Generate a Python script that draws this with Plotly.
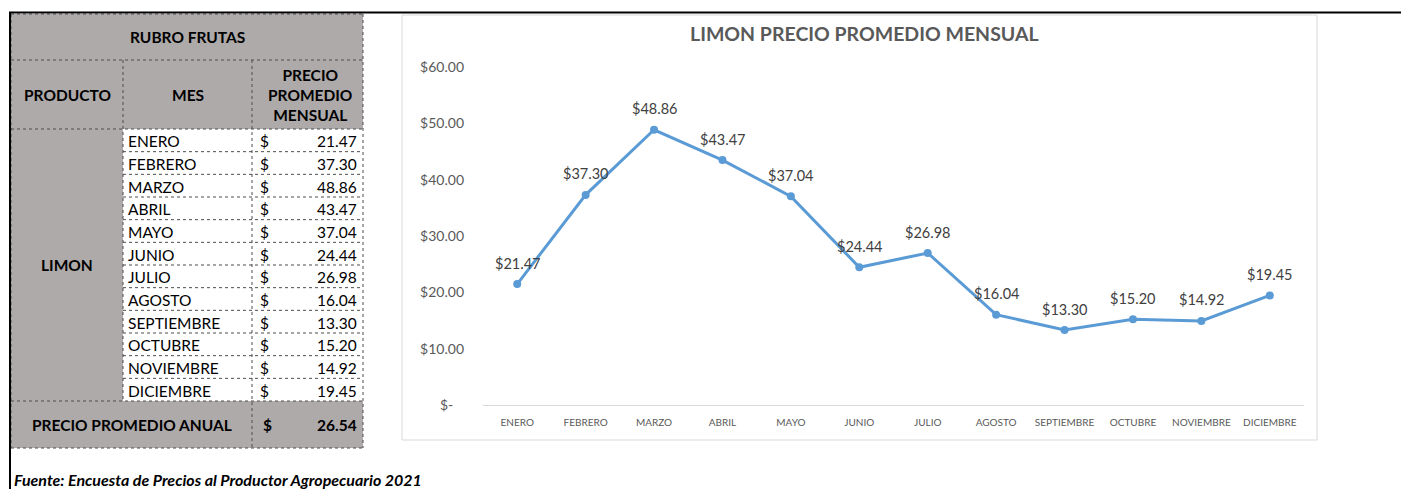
import plotly.graph_objects as go

# ---------------- data ----------------
months = ["ENERO", "FEBRERO", "MARZO", "ABRIL", "MAYO", "JUNIO", "JULIO",
          "AGOSTO", "SEPTIEMBRE", "OCTUBRE", "NOVIEMBRE", "DICIEMBRE"]
prices = [21.47, 37.30, 48.86, 43.47, 37.04, 24.44, 26.98,
          16.04, 13.30, 15.20, 14.92, 19.45]
y_ticks = [0, 10, 20, 30, 40, 50, 60]
y_ticktext = ["$-\u00a0\u00a0\u00a0", "$10.00", "$20.00", "$30.00", "$40.00", "$50.00", "$60.00"]
product = "LIMON"
table_title = "RUBRO FRUTAS"
chart_title = "LIMON PRECIO PROMEDIO MENSUAL"
source_text = "Fuente: Encuesta de Precios al Productor Agropecuario 2021"
annual_avg = sum(prices) / len(prices)

# ---------------- layout helpers ----------------
W, H = 1401, 489
FONT = "Lato"


def px(x):
    return x / W


def py(y):
    return 1 - y / H


shapes = []
annotations = []

GRAY = "#AEAAAA"
BORDER = "#4d4d4d"


def rect(x0, y0, x1, y1, fill=None, line_color=None, width=1, dash=None, layer="below"):
    shapes.append(dict(type="rect", xref="paper", yref="paper",
                       x0=px(x0), x1=px(x1), y0=py(y1), y1=py(y0),
                       fillcolor=fill if fill else "rgba(0,0,0,0)",
                       line=dict(color=line_color if line_color else "rgba(0,0,0,0)",
                                 width=width if line_color else 0, dash=dash),
                       layer=layer))


def hline(x0, x1, y, color=BORDER, width=1, dash="dot"):
    shapes.append(dict(type="line", xref="paper", yref="paper",
                       x0=px(x0), x1=px(x1), y0=py(y), y1=py(y),
                       line=dict(color=color, width=width, dash=dash), layer="above"))


def vline(x, y0, y1, color=BORDER, width=1, dash="dot"):
    shapes.append(dict(type="line", xref="paper", yref="paper",
                       x0=px(x), x1=px(x), y0=py(y0), y1=py(y1),
                       line=dict(color=color, width=width, dash=dash), layer="above"))


def text(x, y, s, size=15, bold=False, italic=False, xanchor="center", color="#000000"):
    if bold:
        s = "<b>" + s + "</b>"
    if italic:
        s = "<i>" + s + "</i>"
    annotations.append(dict(xref="paper", yref="paper", x=px(x), y=py(y), text=s,
                            showarrow=False, xanchor=xanchor, yanchor="middle",
                            font=dict(family=FONT, size=size, color=color)))


# ---------------- table ----------------
c0, c1, c2, c3 = 11, 123, 252, 363
r_top, r1, r2 = 14, 60, 129
r_data_end = 401
r_bottom = 448
n = len(months)
rh = (r_data_end - r2) / n

# backgrounds
rect(c0, r_top, c3, r2, fill=GRAY)
rect(c0, r2, c1, r_data_end, fill=GRAY)
rect(c1, r2, c3, r_data_end, fill="#FFFFFF")
rect(c0, r_data_end, c3, r_bottom, fill=GRAY)

# borders
hline(c0, c3, r_top)
hline(c0, c3, r1)
hline(c0, c3, r2)
for i in range(1, n):
    hline(c1, c3, r2 + i * rh)
hline(c0, c3, r_data_end)
hline(c0, c3, r_bottom)
vline(c0, r_top, r_bottom)
vline(c3, r_top, r_bottom)
vline(c1, r1, r_data_end)
vline(c2, r1, r_bottom)

# header text
text((c0 + c3) / 2, (r_top + r1) / 2, table_title, bold=True, size=15.5)
text((c0 + c1) / 2, (r1 + r2) / 2, "PRODUCTO", bold=True, size=15.5)
text((c1 + c2) / 2, (r1 + r2) / 2, "MES", bold=True, size=15.5)
text((c2 + c3) / 2 + 2, (r1 + r2) / 2, "PRECIO<br>PROMEDIO<br>MENSUAL", bold=True, size=15.5)
text((c0 + c1) / 2, (r2 + r_data_end) / 2, product, bold=True, size=15.5)

for i, (m, v) in enumerate(zip(months, prices)):
    yc = r2 + (i + 0.5) * rh + 1
    text(c1 + 3, yc, m, size=15.5, xanchor="left")
    text(c2 + 6, yc, "$", size=15.5, xanchor="left")
    text(c3 - 4, yc, f"{v:.2f}", size=15.5, xanchor="right")

text((c0 + c2) / 2, (r_data_end + r_bottom) / 2, "PRECIO PROMEDIO ANUAL", bold=True, size=15.5)
text(c2 + 9, (r_data_end + r_bottom) / 2, "$", bold=True, size=15.5, xanchor="left")
text(c3 - 4, (r_data_end + r_bottom) / 2, f"{annual_avg:.2f}", bold=True, size=15.5, xanchor="right")

# black frame lines
hline(9, W, 12.5, color="#000000", width=2, dash="solid")
vline(10, 12, H, color="#000000", width=2, dash="solid")

# chart box
rect(402, 15, 1317, 440, line_color="#D9D9D9", width=1, layer="below")

# chart title
text(864, 33, chart_title, bold=True, size=19.5, color="#595959")

# source
text(12, 479, source_text, bold=True, italic=True, size=16, xanchor="left")

# data labels (positioned via the data axes)
for m, v in zip(months, prices):
    annotations.append(dict(xref="x", yref="y", x=m, y=v, text=f"${v:.2f}",
                            showarrow=False, xanchor="center", yanchor="middle",
                            yshift=21,
                            font=dict(family=FONT, size=14.5, color="#404040")))

# ---------------- chart ----------------
fig = go.Figure()
fig.add_trace(go.Scatter(
    x=months, y=prices,
    mode="lines+markers",
    line=dict(color="#5B9BD5", width=3),
    marker=dict(color="#5B9BD5", size=8),
    cliponaxis=False,
    hoverinfo="skip",
))

fig.update_layout(
    width=W, height=H,
    autosize=False,
    margin=dict(l=0, r=0, t=0, b=0, pad=0, autoexpand=False),
    paper_bgcolor="#FFFFFF",
    plot_bgcolor="rgba(0,0,0,0)",
    showlegend=False,
    shapes=shapes,
    annotations=annotations,
    xaxis=dict(
        domain=[px(483), px(1304)],
        type="category",
        categoryorder="array", categoryarray=months,
        range=[-0.5, len(months) - 0.5],
        showgrid=False, zeroline=False, automargin=False,
        showline=True, linecolor="#D9D9D9", linewidth=1,
        ticks="", ticklabelstandoff=8,
        tickfont=dict(family=FONT, size=10, color="#595959"),
    ),
    yaxis=dict(
        domain=[py(405), py(67)],
        range=[0, 60],
        showgrid=False, zeroline=False, showline=False, automargin=False,
        tickvals=y_ticks, ticktext=y_ticktext,
        ticks="", ticklabelstandoff=18,
        tickfont=dict(family=FONT, size=14, color="#595959"),
    ),
)

fig.write_html("out.html", config={"displayModeBar": False},
               post_script="document.body.style.margin='0';")
